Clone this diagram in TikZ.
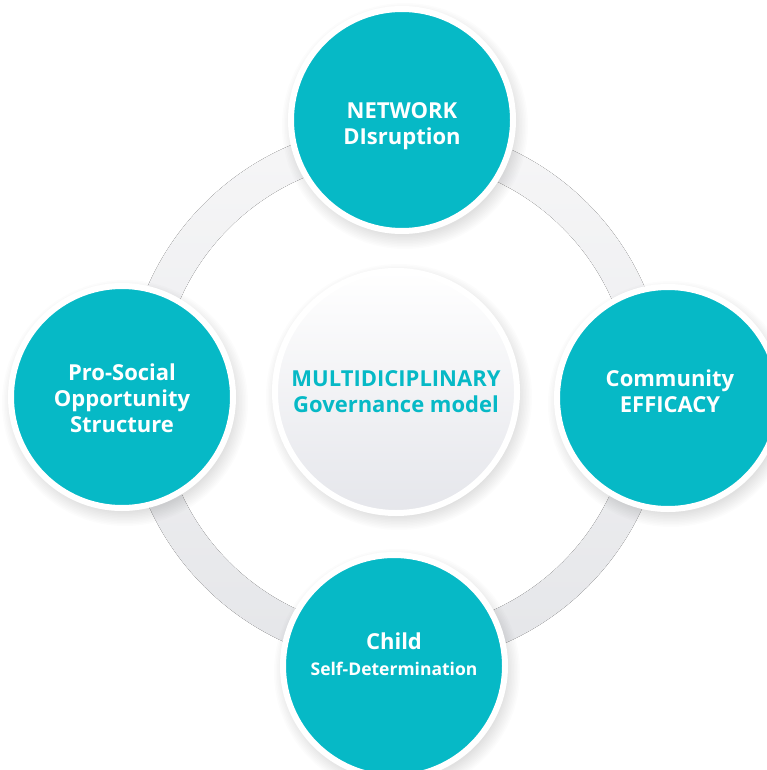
\documentclass[tikz,border=0pt]{standalone}
\usepackage{fontspec}
\setmainfont{Open Sans}

\definecolor{hubteal}{RGB}{6,185,198}
\definecolor{ringtop}{RGB}{246,246,247}
\definecolor{ringbot}{RGB}{229,230,233}
\definecolor{hubgrey}{RGB}{229,230,235}

\tikzset{
  spoke/.style={circle, fill=hubteal, draw=white, line width=6pt,
    minimum size=222pt, inner sep=0pt},
  spoketext/.style={align=center, text=white, inner sep=0pt,
    font=\bfseries\fontsize{22}{26}\selectfont},
  hub/.style={circle, top color=white, bottom color=hubgrey, draw=white, line width=6pt,
    minimum size=242pt, inner sep=0pt, align=center, text=hubteal,
    font=\bfseries\fontsize{22}{26}\selectfont}
}

\begin{document}
\begin{tikzpicture}[x=1pt,y=-1pt]
\useasboundingbox (0,0) rectangle (767,770);
% grey ring behind everything
\fill[even odd rule, top color=ringtop, bottom color=ringbot]
  (396,395) circle (271pt) (396,395) circle (236pt);
% soft shadows
\foreach \cx/\cy/\cr in {402/120/114, 668/398/114, 394/666/114, 122/397/114, 396/391/124}
  \foreach \k in {0,...,9}
    \fill[black, opacity=.013] (\cx+3,\cy+6) circle ({\cr+9-\k*1.5pt});
\node[hub] (hub) at (396,392) {MULTIDICIPLINARY\\Governance model};
\node[spoke] (net) at (402,120) {};
\node[spoke] (comm) at (668,398) {};
\node[spoke] (child) at (394,666) {};
\node[spoke] (pro) at (122,397) {};
\node[spoketext] (nettxt) at (402,126) {NETWORK\\DIsruption};
\node[spoketext] (commtxt) at (670,391) {Community\\EFFICACY};
\node[spoketext] (childtxt) at (394,654) {Child\\{\fontsize{17.5}{20}\selectfont Self-Determination}};
\node[spoketext] (protxt) at (122,398) {Pro-Social\\Opportunity\\Structure};
\end{tikzpicture}
\end{document}
